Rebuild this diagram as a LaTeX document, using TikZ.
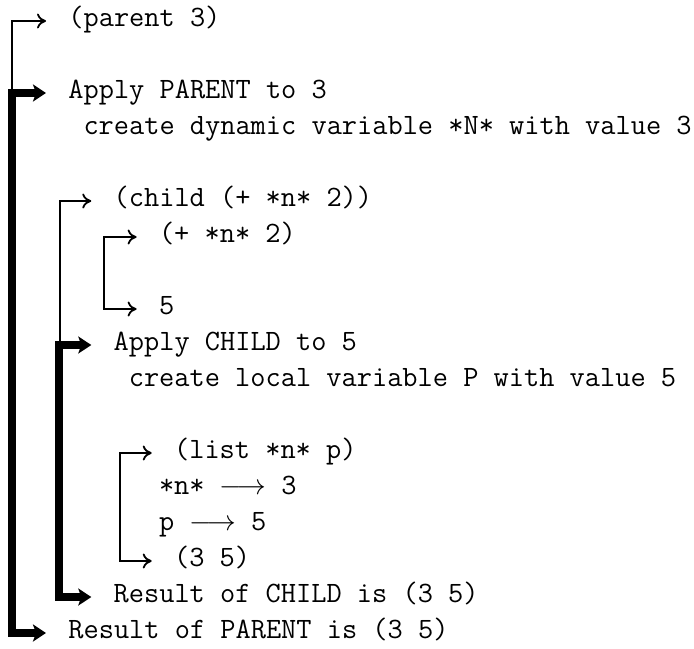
\documentclass[tikz,border=0pt]{standalone}
\usetikzlibrary{arrows.meta}
\begin{document}
\begin{tikzpicture}[x=0.5pt,y=-0.5pt,
  txt/.style={anchor=west,inner sep=0pt,text height=0.75em,text depth=0.25em,
              font=\fontsize{14.76pt}{17pt}\selectfont\ttfamily},
  thinl/.style={line width=0.9pt,line join=miter},
  thintip/.tip={To[length=4.5pt,width=7.5pt,line width=0.9pt]},
  thicktip/.tip={Stealth[length=6.5pt,width=8.5pt,inset=1.5pt]},
  thinarr/.style={thinl,thintip-thintip},
  thickarr/.style={line width=4pt,line join=miter,thicktip-thicktip}]
\useasboundingbox (0,0) rectangle (694,648);
% bracket columns
\coordinate (bx1) at (12,0);
\coordinate (bx2) at (60,0);
\coordinate (bx2t) at (59,0);
\coordinate (bx3) at (104,0);
\coordinate (bx4) at (120,0);
% texts
\node[txt] (p1) at (68,21) {(parent 3)};
\node[txt] (p2) at (68,93) {Apply PARENT to 3};
\node[txt] (p3) at (83.1,129) {create dynamic variable *N* with value 3};
\node[txt] (c1) at (113.3,201) {(child (+ *n* 2))};
\node[txt] (a1) at (158.6,237) {(+ *n* 2)};
\node[txt] (a2) at (158.6,309) {5};
\node[txt] (c2) at (113.3,345) {Apply CHILD to 5};
\node[txt] (c3) at (128.4,381) {create local variable P with value 5};
\node[txt] (l1) at (173.7,453) {(list *n* p)};
\node[txt] (l2) at (158.6,489) {*n* $\longrightarrow$ 3};
\node[txt] (l3) at (158.6,525) {p $\longrightarrow$ 5};
\node[txt] (l4) at (173.7,561) {(3 5)};
\node[txt] (c4) at (113.3,597) {Result of CHILD is (3 5)};
\node[txt] (p4) at (68,633) {Result of PARENT is (3 5)};
% thin brackets (call)
\draw[thinl,-thintip] (bx1 |- p2.west) |- ([xshift=-11pt]p1.west);
\draw[thinl,-thintip] (bx2 |- c2.west) |- ([xshift=-11pt]c1.west);
% thick brackets (application)
\draw[thickarr] ([xshift=-11pt]p2.west) -| (bx1 |- p4.west) -- ([xshift=-11pt]p4.west);
\draw[thickarr] ([xshift=-11pt]c2.west) -| (bx2t |- c4.west) -- ([xshift=-11pt]c4.west);
% inner brackets
\draw[thinarr] ([xshift=-11pt]a1.west) -| (bx3 |- a2.west) -- ([xshift=-11pt]a2.west);
\draw[thinarr] ([xshift=-11pt]l1.west) -| (bx4 |- l4.west) -- ([xshift=-11pt]l4.west);
\end{tikzpicture}
\end{document}
